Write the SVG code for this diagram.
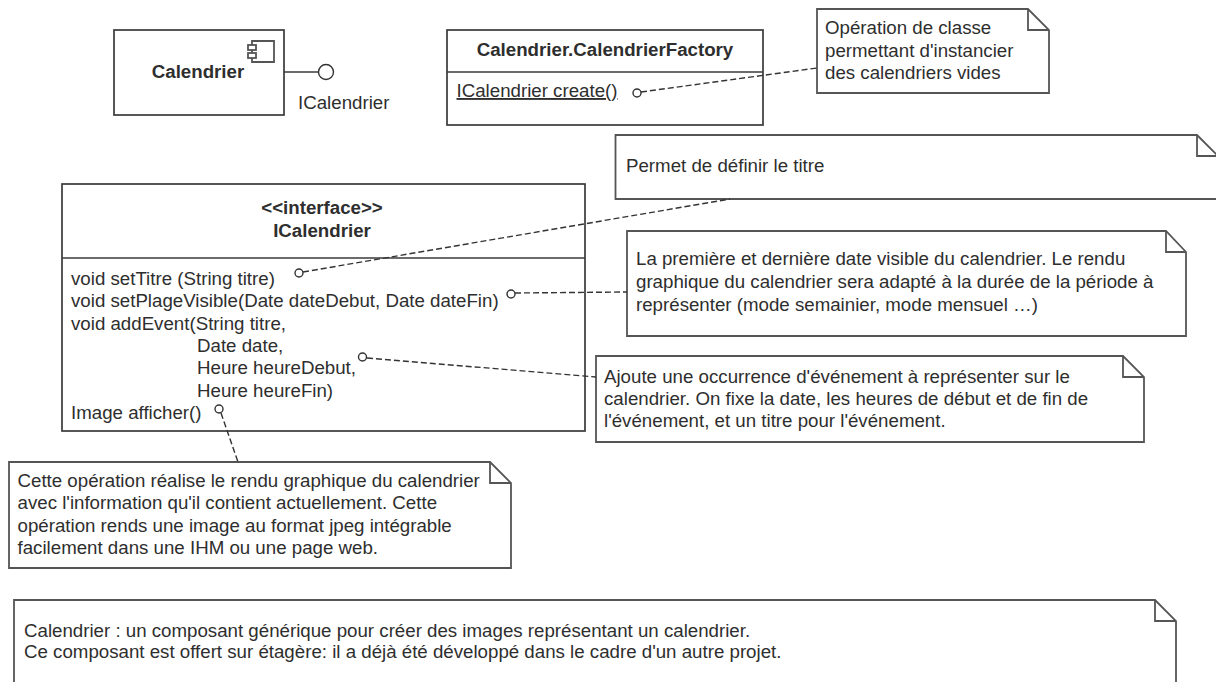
<svg xmlns="http://www.w3.org/2000/svg" width="1216" height="682" viewBox="0 0 1216 682">
<style>
text{font-family:"Liberation Sans",Arial,sans-serif;font-size:18.7px;fill:#2e2e2e}
.b{font-weight:bold;text-anchor:middle}
.s{fill:#fff;stroke:#3a3a3a;stroke-width:1.7}
.n{fill:#fff;stroke:#555;stroke-width:1.8}
.f{fill:none;stroke:#3a3a3a;stroke-width:1.7}
.g{fill:none;stroke:#555;stroke-width:1.8}
.d{fill:none;stroke:#333;stroke-width:1.4;stroke-dasharray:6 3}
.c{fill:#fff;stroke:#333;stroke-width:1.4}
</style>
<rect width="1216" height="682" fill="#fff"/>
<g id="calendrier">
<rect class="s" x="114" y="30" width="170" height="85"/>
<path class="g" d="M252 41H274V62H252Z"/>
<rect class="n" x="248" y="45" width="8" height="5"/>
<rect class="n" x="248" y="53" width="8" height="5"/>
<text class="b" x="198" y="78">Calendrier</text>
<text x="298" y="109">ICalendrier</text>
</g>
<g id="factory">
<rect class="s" x="447" y="30" width="316" height="95"/>
<line class="f" x1="447" y1="72" x2="763" y2="72"/>
<text class="b" x="605" y="56">Calendrier.CalendrierFactory</text>
<text x="456.500" y="97" text-decoration="underline">ICalendrier create()</text>
</g>
<g id="icalendrier">
<rect class="s" x="62" y="184" width="523" height="247"/>
<line class="f" x1="62" y1="258" x2="585" y2="258"/>
<text class="b" x="322" y="214">&lt;&lt;interface&gt;&gt;</text>
<text class="b" x="322" y="237">ICalendrier</text>
<text x="71" y="285">void setTitre (String titre)</text>
<text x="71" y="307">void setPlageVisible(Date dateDebut, Date dateFin)</text>
<text x="71" y="330">void addEvent(String titre,</text>
<text x="197" y="352">Date date,</text>
<text x="197" y="374">Heure heureDebut,</text>
<text x="197" y="397">Heure heureFin)</text>
<text x="71" y="419">Image afficher()</text>
</g>
<g id="note-factory">
<path class="n" d="M817 9H1028L1049 30V93H817Z"/>
<path class="g" d="M1028 9V30H1049"/>
<text x="825" y="34">Opération de classe</text>
<text x="825" y="57">permettant d'instancier</text>
<text x="825" y="79">des calendriers vides</text>
</g>
<g id="note-titre">
<path class="n" d="M615.500 135H1197L1218 156V199H615.500Z"/>
<path class="g" d="M1197 135V156H1218"/>
<text x="626" y="172">Permet de définir le titre</text>
</g>
<g id="note-plage">
<path class="n" d="M627 231H1166L1186 252V336H627Z"/>
<path class="g" d="M1166 231V252H1186"/>
<text x="636" y="265">La première et dernière date visible du calendrier. Le rendu</text>
<text x="636" y="288">graphique du calendrier sera adapté à la durée de la période à</text>
<text x="636" y="311">représenter (mode semainier, mode mensuel …)</text>
</g>
<g id="note-event">
<path class="n" d="M596 356H1123L1144 377V442H596Z"/>
<path class="g" d="M1123 356V377H1144"/>
<text x="604" y="383">Ajoute une occurrence d'événement à représenter sur le</text>
<text x="604" y="405">calendrier. On fixe la date, les heures de début et de fin de</text>
<text x="604" y="427">l'événement, et un titre pour l'événement.</text>
</g>
<g id="note-afficher">
<path class="n" d="M9 462H490L511 483V568H9Z"/>
<path class="g" d="M490 462V483H511"/>
<text x="17.500" y="487">Cette opération réalise le rendu graphique du calendrier</text>
<text x="17.500" y="509">avec l'information qu'il contient actuellement. Cette</text>
<text x="17.500" y="532">opération rends une image au format jpeg intégrable</text>
<text x="17.500" y="554">facilement dans une IHM ou une page web.</text>
</g>
<g id="note-composant">
<path class="n" d="M14 600H1155L1176 621V690H14Z"/>
<path class="g" d="M1155 600V621H1176"/>
<text x="24" y="637">Calendrier : un composant générique pour créer des images représentant un calendrier.</text>
<text x="24" y="658">Ce composant est offert sur étagère: il a déjà été développé dans le cadre d'un autre projet.</text>
</g>
<g id="connectors">
<line class="f" x1="284" y1="72" x2="319" y2="72"/>
<circle class="c" cx="326" cy="72" r="7.5"/>
<line class="d" x1="641" y1="92" x2="817" y2="68"/>
<circle class="c" cx="637" cy="93" r="4"/>
<line class="d" x1="303" y1="272" x2="730" y2="199"/>
<circle class="c" cx="299" cy="273" r="4"/>
<line class="d" x1="515" y1="293" x2="627" y2="292"/>
<circle class="c" cx="511" cy="294" r="4"/>
<line class="d" x1="367" y1="358" x2="596" y2="377"/>
<circle class="c" cx="362.5" cy="357" r="4"/>
<line class="d" x1="221" y1="413" x2="238" y2="462"/>
<circle class="c" cx="219" cy="409" r="4"/>
</g>
</svg>
